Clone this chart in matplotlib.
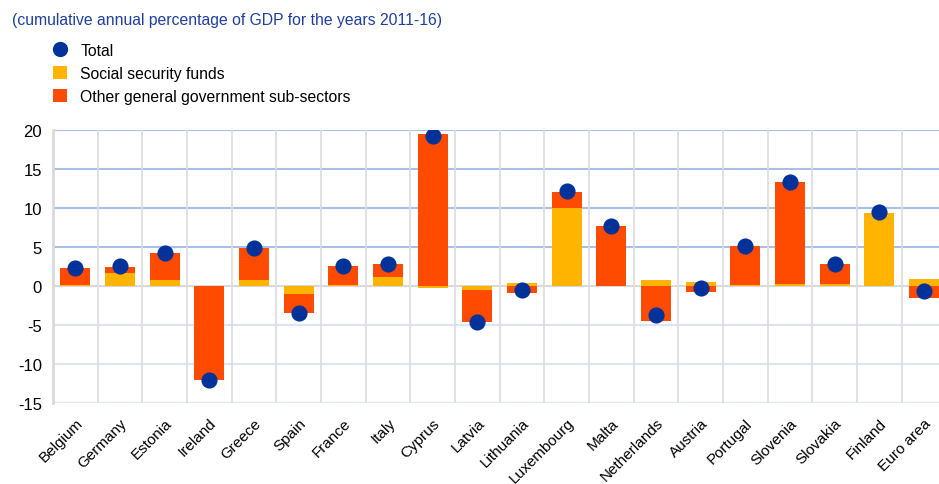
import matplotlib
matplotlib.use("Agg")
import matplotlib.pyplot as plt
import numpy as np
from matplotlib.lines import Line2D
from matplotlib.patches import Patch

plt.rcParams['font.family'] = ['Liberation Sans', 'DejaVu Sans']

countries = ["Belgium", "Germany", "Estonia", "Ireland", "Greece", "Spain", "France",
             "Italy", "Cyprus", "Latvia", "Lithuania", "Luxembourg", "Malta",
             "Netherlands", "Austria", "Portugal", "Slovenia", "Slovakia", "Finland",
             "Euro area"]
social = [0.1, 1.6, 0.7, 0.0, 0.8, -1.0, 0.1, 1.1, -0.3, -0.5, 0.4, 10.0, 0.0,
          0.8, 0.5, 0.1, 0.2, 0.25, 9.3, 0.9]
other = [2.2, 0.8, 3.5, -12.0, 4.0, -2.5, 2.5, 1.7, 19.5, -4.1, -0.9, 2.0, 7.7,
         -4.5, -0.75, 5.0, 13.1, 2.5, 0.0, -1.6]
total = [2.3, 2.5, 4.2, -12.0, 4.8, -3.5, 2.6, 2.75, 19.2, -4.6, -0.5, 12.1, 7.7,
         -3.7, -0.25, 5.1, 13.3, 2.75, 9.4, -0.6]
yticks = [20, 15, 10, 5, 0, -5, -10, -15]

RED = "#FF4B00"
YEL = "#FFB400"
BLUE = "#003299"

fig = plt.figure(figsize=(9.39, 4.85), dpi=100)
W, H = 939, 485
left, right, top, bottom = 53, 939, 130.7, 404
ax = fig.add_axes([left / W, 1 - bottom / H, (right - left) / W, (bottom - top) / H])

x = np.arange(len(countries))
s = np.array(social)
o = np.array(other)
s_base = np.zeros_like(s)
o_base = np.where(np.sign(o) == np.sign(s), s, 0.0)
bw = 0.67
ax.bar(x, s, bw, bottom=s_base, color=YEL, zorder=3, linewidth=0)
ax.bar(x, o, bw, bottom=o_base, color=RED, zorder=3, linewidth=0)
ax.scatter(x, total, s=135, color=BLUE, zorder=5, linewidths=0)

ax.set_ylim(-15, 20)
ax.set_xlim(-0.5, (right - left) / 44.67 - 0.5)
ax.set_yticks(yticks)
ax.set_yticklabels([str(v) for v in yticks], fontsize=12)
ax.set_xticks(x)
ax.set_xticklabels(countries, rotation=45, ha="right", rotation_mode="anchor", fontsize=11)
ax.tick_params(axis="y", length=0, pad=8)
ax.tick_params(axis="x", length=0, pad=9)

for sp in ["top", "right", "bottom"]:
    ax.spines[sp].set_visible(False)
ax.spines["left"].set_color("#d9d9d9")
ax.spines["left"].set_linewidth(2)

for v in yticks:
    if v > 0:
        c = "#a8c0e8"
    elif v == 0:
        c = "#d9d9d9"
    else:
        c = "#dde4f2"
    ax.axhline(v, color=c, linewidth=1.5, zorder=1)
for b in np.arange(-0.5, len(countries), 1.0)[1:]:
    ax.axvline(b, color="#dcdcdc", linewidth=1.2, zorder=1)

fig.text(12 / W, 1 - 20 / H, "(cumulative annual percentage of GDP for the years 2011-16)",
         color="#1f3f9f", fontsize=11.3, va="center", ha="left")

handles = [
    Line2D([0], [0], marker="o", color="none", markerfacecolor=BLUE, markeredgewidth=0, markersize=11),
    Patch(facecolor=YEL, edgecolor="none"),
    Patch(facecolor=RED, edgecolor="none"),
]
labels = ["Total", "Social security funds", "Other general government sub-sectors"]
fig.legend(handles, labels, loc="upper left", bbox_to_anchor=(53 / W, 1 - 44 / H),
           frameon=False, fontsize=11.3, handlelength=0.9, handleheight=0.9,
           handletextpad=0.85, labelspacing=0.5, borderaxespad=0, borderpad=0)

fig.savefig("out.png", dpi=100)
